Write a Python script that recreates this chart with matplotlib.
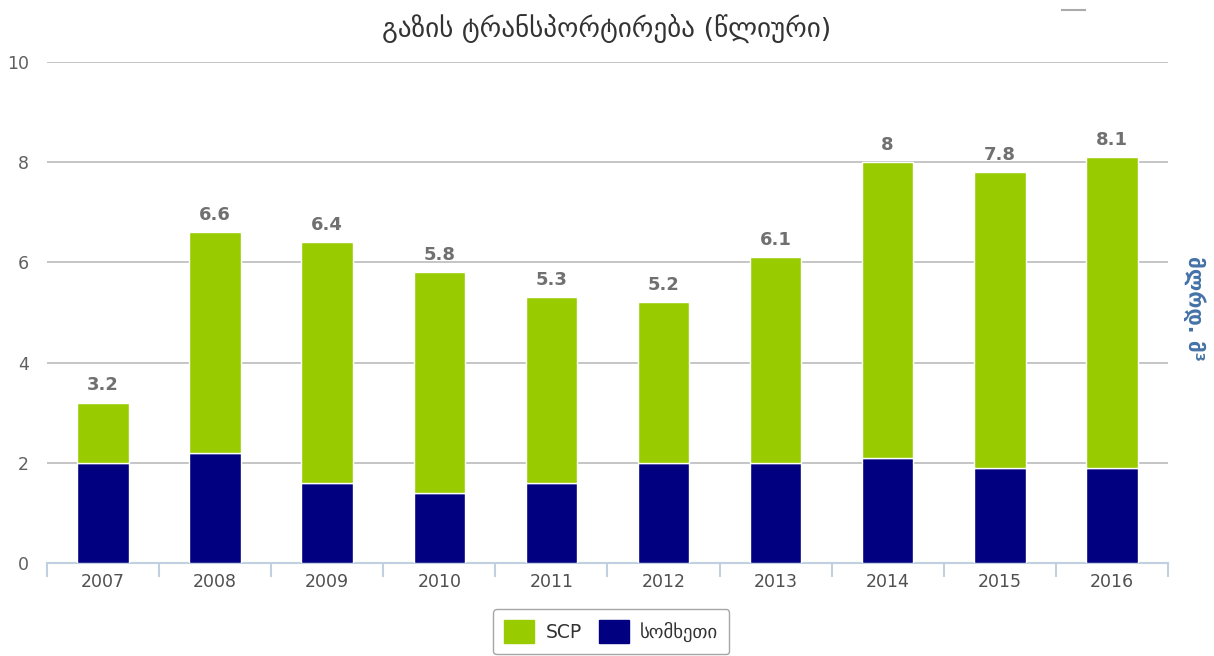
import numpy as np
import matplotlib.pyplot as plt
from matplotlib.lines import Line2D

years = ["2007", "2008", "2009", "2010", "2011", "2012", "2013", "2014", "2015", "2016"]
armenia = [2.0, 2.2, 1.6, 1.4, 1.6, 2.0, 2.0, 2.1, 1.9, 1.9]
scp = [1.2, 4.4, 4.8, 4.4, 3.7, 3.2, 4.1, 5.9, 5.9, 6.2]
totals = ["3.2", "6.6", "6.4", "5.8", "5.3", "5.2", "6.1", "8", "7.8", "8.1"]

green = "#99CC00"
navy = "#000080"

plt.rcParams['font.family'] = ['DejaVu Sans']

fig = plt.figure(figsize=(12.14, 6.56), dpi=100)
ax = fig.add_axes([0.0387, 0.1418, 0.9233, 0.7637])

x = np.arange(len(years))
w = 0.46
ax.bar(x, armenia, w, color=navy, edgecolor="white", linewidth=1, zorder=3, label="სომხეთი")
ax.bar(x, scp, w, bottom=armenia, color=green, edgecolor="white", linewidth=1, zorder=3, label="SCP")

for xi, a, s, t in zip(x, armenia, scp, totals):
    ax.text(xi, a + s + 0.17, t, ha="center", va="bottom", fontsize=13,
            fontweight="bold", color="#707070", zorder=4)

ax.set_xlim(-0.5, len(years) - 0.5)
ax.set_ylim(0, 10)
ax.set_yticks([0, 2, 4, 6, 8, 10])
ax.yaxis.grid(True, color="#C0C0C0", linewidth=1.3)
ax.set_axisbelow(True)
for sp in ["top", "right", "left"]:
    ax.spines[sp].set_visible(False)
ax.spines["bottom"].set_color("#C0D0E0")
ax.spines["bottom"].set_linewidth(1.5)
ax.tick_params(axis="y", length=0, labelsize=12.5, labelcolor="#606060", pad=13)
ax.set_xticks(x)
ax.set_xticklabels(years)
ax.tick_params(axis="x", length=0, labelsize=12.5, labelcolor="#505050", pad=7)
# category separator ticks
ax.set_xticks(np.arange(-0.5, len(years)), minor=True)
ax.tick_params(axis="x", which="minor", length=10, color="#C0D0E0", width=1.5, direction="out")

fig.text(0.5, 0.955, "გაზის ტრანსპორტირება (წლიური)", ha="center", va="center",
         fontsize=19.5, color="#333333")
fig.text(0.984, 0.53, "მლრდ. მ³", rotation=270, ha="center", va="center",
         fontsize=15, fontweight="bold", color="#4572A7")
fig.add_artist(Line2D([1062 / 1214, 1085 / 1214], [1 - 10 / 656, 1 - 10 / 656],
                      color="#AAAAAA", linewidth=1.5))

handles = [plt.Rectangle((0, 0), 1, 1, color=green), plt.Rectangle((0, 0), 1, 1, color=navy)]
leg = fig.legend(handles, ["SCP", "სომხეთი"], loc="lower center", ncol=2,
                 bbox_to_anchor=(0.5035, -0.012), fontsize=13.5, frameon=True, fancybox=True,
                 handlelength=1.6, handleheight=1.5, columnspacing=0.9, handletextpad=0.6,
                 borderpad=0.6)
leg.get_frame().set_edgecolor("#909090")
leg.get_frame().set_linewidth(1)
for t in leg.get_texts():
    t.set_color("#333333")

plt.savefig("out.png", dpi=100)
